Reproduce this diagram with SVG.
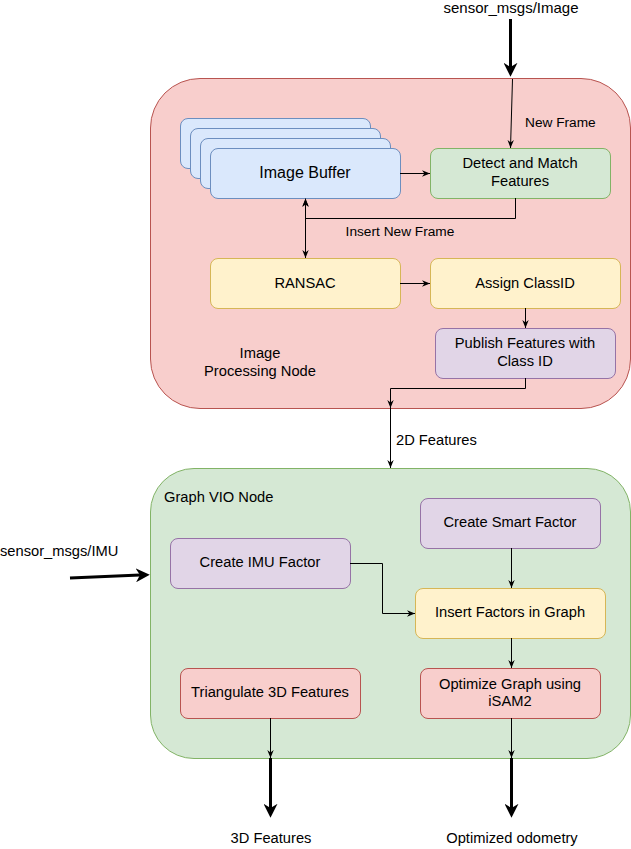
<svg xmlns="http://www.w3.org/2000/svg" width="631" height="849" viewBox="0 0 631 849">
<style>
text{font-family:"Liberation Sans",Arial,sans-serif;font-size:14.7px;fill:#000}
.c{text-anchor:middle}
.s{font-size:13.7px}
.red{fill:#f8cecc;stroke:#b85450}
.blue{fill:#dae8fc;stroke:#6c8ebf}
.green{fill:#d5e8d4;stroke:#82b366}
.yellow{fill:#fff2cc;stroke:#d6b656}
.purple{fill:#e1d5e7;stroke:#9673a6}
.e{fill:none;stroke:#000;stroke-width:1;marker-end:url(#a)}
.t{fill:none;stroke:#000;stroke-width:3;marker-end:url(#b)}
</style>
<defs>
<marker id="a" viewBox="0 0 10 10" refX="10" refY="5" markerWidth="8" markerHeight="8" markerUnits="userSpaceOnUse" orient="auto-start-reverse"><path d="M0,1 L10,5 L0,9 L3,5 Z" fill="#000"/></marker>
<marker id="b" viewBox="0 0 10 10" refX="3" refY="5" markerWidth="14" markerHeight="14" markerUnits="userSpaceOnUse" orient="auto"><path d="M0,0 L10,5 L0,10 L3,5 Z" fill="#000"/></marker>
</defs>

<g id="image-processing-node">
<rect class="red" x="150.5" y="78.5" width="480" height="330" rx="49.5"/>
<text class="c" x="260" y="358">Image</text>
<text class="c" x="260" y="376">Processing Node</text>
</g>
<g id="graph-vio-node">
<rect class="green" x="150.5" y="468.5" width="480" height="290" rx="43.5"/>
<text x="164" y="502">Graph VIO Node</text>
</g>

<g id="image-buffer">
<rect class="blue" x="180.5" y="118.5" width="190" height="50" rx="7.5"/>
<rect class="blue" x="190.5" y="128.5" width="190" height="50" rx="7.5"/>
<rect class="blue" x="200.5" y="138.5" width="190" height="50" rx="7.5"/>
<rect class="blue" x="210.5" y="148.5" width="190" height="50" rx="7.5"/>
<text class="c" x="305" y="178" style="font-size:16px">Image Buffer</text>
</g>
<g id="detect-match">
<rect class="green" x="430.5" y="148.5" width="180" height="50" rx="7.5"/>
<text class="c" x="520" y="168">Detect and Match</text>
<text class="c" x="520" y="186">Features</text>
</g>
<g id="ransac">
<rect class="yellow" x="210.5" y="258.5" width="190" height="50" rx="7.5"/>
<text class="c" x="305" y="288">RANSAC</text>
</g>
<g id="assign-classid">
<rect class="yellow" x="430.5" y="258.5" width="190" height="50" rx="7.5"/>
<text class="c" x="525" y="288">Assign ClassID</text>
</g>
<g id="publish-features">
<rect class="purple" x="435.5" y="328.5" width="180" height="50" rx="7.5"/>
<text class="c" x="525" y="348">Publish Features with</text>
<text class="c" x="525" y="366">Class ID</text>
</g>

<g id="create-smart-factor">
<rect class="purple" x="420.5" y="498.5" width="180" height="50" rx="7.5"/>
<text class="c" x="510" y="527">Create Smart Factor</text>
</g>
<g id="create-imu-factor">
<rect class="purple" x="170.5" y="538.5" width="180" height="50" rx="7.5"/>
<text class="c" x="260" y="567">Create IMU Factor</text>
</g>
<g id="insert-factors">
<rect class="yellow" x="415.5" y="588.5" width="190" height="50" rx="7.5"/>
<text class="c" x="510" y="617">Insert Factors in Graph</text>
</g>
<g id="triangulate">
<rect class="red" x="180.5" y="668.5" width="180" height="50" rx="7.5"/>
<text class="c" x="270" y="697">Triangulate 3D Features</text>
</g>
<g id="optimize-graph">
<rect class="red" x="420.5" y="668.5" width="180" height="50" rx="7.5"/>
<text class="c" x="510" y="689">Optimize Graph using</text>
<text class="c" x="510" y="706">iSAM2</text>
</g>

<g id="external-labels">
<text class="c" x="511" y="13" style="font-size:15px">sensor_msgs/Image</text>
<text x="0" y="556">sensor_msgs/IMU</text>
<text class="c" x="271" y="843">3D Features</text>
<text class="c" x="512" y="843">Optimized odometry</text>
</g>

<g id="connectors">
<path class="t" d="M510.5,19 V67"/>
<path class="e" d="M512.5,79 L510.5,148"/>
<text class="s" x="525" y="127">New Frame</text>
<path class="e" d="M400,173.5 H430"/>
<path class="e" d="M515.5,198 V218.5 H305.5 V198.5"/>
<text class="c s" x="400" y="236">Insert New Frame</text>
<path class="e" d="M305.5,199 V258" style="marker-start:url(#a)"/>
<path class="e" d="M400,283.5 H430"/>
<path class="e" d="M525.5,308 V328"/>
<path class="e" d="M525.5,378 V388.5 H390.5 V408"/>
<path class="e" d="M390.5,408 V468"/>
<text x="396" y="445">2D Features</text>
<path class="t" d="M70,578 L140,575.1"/>
<path class="e" d="M350,563.5 H382.5 V613.5 H415"/>
<path class="e" d="M511.5,548 V588"/>
<path class="e" d="M511.5,638 V668"/>
<path class="e" d="M270.5,718 V758"/>
<path class="e" d="M511.5,718 V758"/>
<path class="t" d="M270.5,758 V808"/>
<path class="t" d="M511.5,758 V808"/>
</g>
</svg>
